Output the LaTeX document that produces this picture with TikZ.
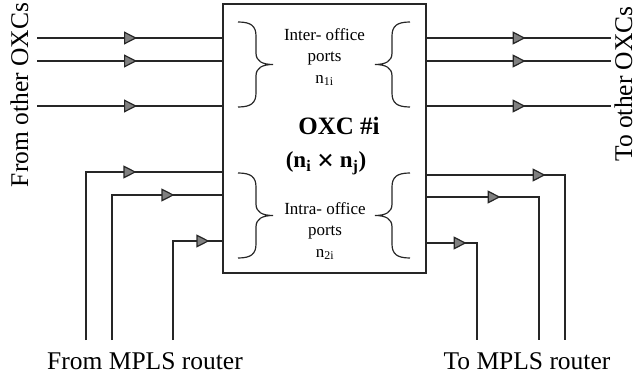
\documentclass[tikz,border=0pt]{standalone}
\usepackage{fontspec}
\setmainfont{Liberation Serif}
\usetikzlibrary{arrows.meta,decorations.markings}

\tikzset{
  wire/.style={line width=1.2pt, draw=black!85},
  arrow at/.style={postaction={decorate}, decoration={markings,
      mark=at position #1 with {\arrow{Triangle[length=13pt,width=13pt,fill=black!50]}}}},
  switchbox/.style={draw=black!85, line width=1.2pt, minimum width=203pt, minimum height=269pt, inner sep=0pt},
  porttext/.style={align=center, font=\fontsize{17}{21.5}\selectfont},
  oxctext/.style={font=\bfseries\fontsize{25}{29}\selectfont},
  sidetext/.style={font=\fontsize{25.5}{30}\selectfont, inner sep=0pt},
  rbrace/.pic={\draw[line width=1.2pt, black!85] (0,0) .. controls (13,0) and (18,4) .. (18,14) -- (18,31)
      .. controls (18,39) and (24,42.5) .. (35,42.5) .. controls (24,42.5) and (18,46) .. (18,54) -- (18,71)
      .. controls (18,81) and (13,85) .. (0,85);}
}

\begin{document}
\begin{tikzpicture}[x=1pt, y=-1pt]
  \useasboundingbox (0,0) rectangle (638,377);

  % the cross-connect
  \node[switchbox] (oxc) at (324.5,138.5) {};
  \node[porttext] (inter) at (324.5,57) {Inter- office\\ports\\n\textsubscript{1i}};
  \node[oxctext] (name) at (339,126) {OXC \#i};
  \node[oxctext, font=\bfseries\fontsize{23}{27}\selectfont] (size) at (326,163)
    {(n\textsubscript{i} \raisebox{-3pt}{\fontsize{30}{30}\selectfont ×} n\textsubscript{j})};
  \node[porttext] (intra) at (325,231) {Intra- office\\ports\\n\textsubscript{2i}};

  \pic at (238,22) {rbrace};
  \pic[xscale=-1] at (410,22) {rbrace};
  \pic at (238,173) {rbrace};
  \pic[xscale=-1] at (410,173) {rbrace};

  % inter-office ports
  \foreach \y [count=\k] in {38,61,106} {
    \coordinate (in\k) at (37,\y);
    \coordinate (out\k) at (611,\y);
    \draw[wire, arrow at=100pt] (in\k) -- (in\k -| oxc.west);
    \draw[wire, arrow at=99pt] (out\k -| oxc.east) -- (out\k);
  }

  % intra-office ports
  \foreach \x/\y/\d [count=\k] in {86/172/-86pt, 112/195/-48pt, 173/241/-13pt} {
    \coordinate (fr\k) at (\x,340);
    \draw[wire, arrow at=\d] (fr\k) |- (oxc.west |- 0,\y);
  }
  \foreach \x/\y/\d [count=\k] in {565/175/119pt, 539/197/74pt, 477/243/40pt} {
    \coordinate (to\k) at (\x,340);
    \draw[wire, arrow at=\d] (oxc.east |- 0,\y) -| (to\k);
  }

  \node[sidetext, rotate=90, anchor=base] (fromoxc) at (28,95) {From other OXCs};
  \node[sidetext, rotate=90, anchor=base] (tooxc) at (632,84) {To other OXCs};
  \node[sidetext, anchor=base] (frommpls) at (145,369) {From MPLS router};
  \node[sidetext, anchor=base] (tompls) at (527,369) {To MPLS router};
\end{tikzpicture}
\end{document}
